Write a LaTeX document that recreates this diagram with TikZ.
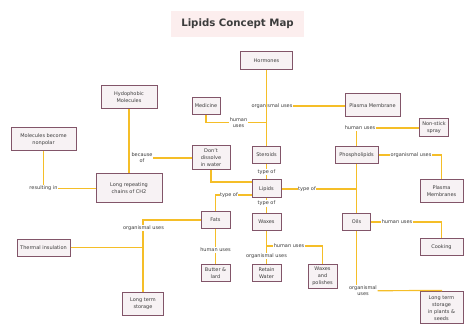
\documentclass[tikz,border=0pt]{standalone}
\usepackage{fontspec}
\setmainfont{DejaVu Sans}
\usepackage{tikz}
\usepackage{xcolor}
\definecolor{linkgold}{RGB}{245,190,40}
\definecolor{boxmauve}{RGB}{130,85,105}
\definecolor{boxfill}{RGB}{247,242,244}
\definecolor{titlepink}{RGB}{252,238,238}
\definecolor{textgrey}{RGB}{60,60,60}

\begin{document}
\begin{tikzpicture}[x=1pt, y=-1pt,
    concept/.style={draw=boxmauve, fill=boxfill, line width=1pt, align=center,
      inner sep=1pt, text=textgrey, font=\fontsize{5}{7}\selectfont},
    linkword/.style={fill=white, inner sep=0.5pt, align=center, text=textgrey,
      font=\fontsize{5}{6}\selectfont},
    link/.style={draw=linkgold, line width=1.2pt}]
    \useasboundingbox (0,0) rectangle (474,336);

    % Title
    \node[fill=titlepink, minimum width=133, minimum height=26, text=textgrey,
      font=\fontsize{10.2}{12}\selectfont\bfseries] (title) at (237.5,24) {Lipids Concept Map};

    % Centre column
    \node[concept, minimum width=52, minimum height=18] (hormones) at (266.5,61) {Hormones};
    \node[concept, minimum width=28, minimum height=17] (steroids) at (266.5,155) {Steroids};
    \node[concept, minimum width=29, minimum height=18] (lipids) at (266.5,189) {Lipids};
    \node[concept, minimum width=29, minimum height=17] (waxes) at (266.5,222) {Waxes};
    \node[concept, minimum width=29, minimum height=17] (water) at (266.5,273) {Retain\\Water};
    \node[concept, minimum width=29, minimum height=24] (polishes) at (322.5,276.3) {Waxes\\and\\polishes};
    \node[concept, minimum width=28, minimum height=17] (medicine) at (206,106) {Medicine};

    % Left side
    \node[concept, minimum width=56, minimum height=23] (hydro) at (129,97) {Hydophobic\\Molecules};
    \node[concept, minimum width=65, minimum height=23] (nonpolar) at (43.5,139.5) {Molecules become\\nonpolar};
    \node[concept, minimum width=38, minimum height=24] (dissolve) at (211,158) {Don't\\dissolve\\in water};
    \node[concept, minimum width=66, minimum height=29] (chains) at (129,188.5) {Long repeating\\chains of CH2};
    \node[concept, minimum width=29, minimum height=17] (fats) at (215.5,220) {Fats};
    \node[concept, minimum width=29, minimum height=17] (butter) at (215.5,273) {Butter \&\\lard};
    \node[concept, minimum width=53, minimum height=17] (thermal) at (43.5,247.7) {Thermal insulation};
    \node[concept, minimum width=41, minimum height=23] (storage) at (143,304) {Long term\\storage};

    % Right side
    \node[concept, minimum width=55, minimum height=23] (plasma) at (372.5,105.5) {Plasma Membrane};
    \node[concept, minimum width=29, minimum height=18] (nonstick) at (434,128) {Non-stick\\spray};
    \node[concept, minimum width=43, minimum height=17] (phospho) at (356.5,155) {Phospholipids};
    \node[concept, minimum width=28, minimum height=17] (oils) at (356.5,222) {Oils};
    \node[concept, minimum width=43, minimum height=23] (membranes) at (441.5,191.5) {Plasma\\Membranes};
    \node[concept, minimum width=43, minimum height=17] (cooking) at (441.5,247.5) {Cooking};
    \node[concept, minimum width=43, minimum height=32] (seeds) at (441.5,308) {Long term\\storage\\in plants \&\\seeds};

    % Link words
    \node[linkword] (orgHormones) at (272,106) {organismal uses};
    \node[linkword] (humMedicine) at (238.5,122.5) {human\\uses};
    \node[linkword] (becauseOf) at (142,158) {because\\of};
    \node[linkword] (resulting) at (43.5,188.5) {resulting in};
    \node[linkword] (typeUp) at (266.5,172) {type of};
    \node[linkword] (typeLeft) at (229,195) {type of};
    \node[linkword] (typeDown) at (266.5,203.5) {type of};
    \node[linkword] (typeRight) at (307,189) {type of};
    \node[linkword] (humSpray) at (360,128) {human uses};
    \node[linkword] (orgMembranes) at (411,155) {organismal uses};
    \node[linkword] (orgFats) at (143.5,228) {organismal uses};
    \node[linkword] (humButter) at (215.5,250) {human uses};
    \node[linkword] (humPolish) at (289,246) {human uses};
    \node[linkword] (orgWater) at (266.5,256) {organismal uses};
    \node[linkword] (humCooking) at (397,222) {human uses};
    \node[linkword] (orgSeeds) at (363,290.7) {organismal\\uses};

    % Connectors, stopping at the link words
    \path[link] (hormones) -- (orgHormones -| hormones);
    \path[link] (orgHormones -| hormones) -- (steroids);
    \path[link] (orgHormones.east) -- (orgHormones.east -| plasma.west);
    \path[link] (medicine.south) |- (humMedicine.west);
    \path[link] (humMedicine.east) -- (humMedicine.east -| steroids);
    \path[link] (hydro) -- (becauseOf.west -| hydro);
    \path[link] (becauseOf.west -| hydro) -- (chains);
    \path[link] (dissolve.west) -- (becauseOf.east);
    \path[link] (nonpolar.south) -- (resulting.north);
    \path[link] (resulting.east) -- (resulting.east -| chains.west);
    \path[link] (dissolve.south) |- ([yshift=7pt]lipids.west);
    \path[link] ([yshift=-6pt]lipids.west) -- (typeLeft.east);
    \path[link] (typeLeft.west) -| (fats.north);
    \path[link] (steroids) -- (typeUp) -- (lipids);
    \path[link] (lipids) -- (typeDown) -- (waxes);
    \path[link] (lipids.east) -- (typeRight.west);
    \path[link] (typeRight.east) -- (typeRight.east -| phospho);
    \path[link] (phospho) -- (oils);
    \path[link] (phospho.north) -- (humSpray.south -| phospho);
    \path[link] (humSpray.east) -- (nonstick.west);
    \path[link] (phospho.east) -- (orgMembranes.west);
    \path[link] (orgMembranes.east) -| (membranes.north);
    \path[link] (fats.west) -| (orgFats.north -| storage);
    \path[link] (orgFats.south -| storage) -- (storage.north);
    \path[link] (thermal.east) -- (thermal.east -| storage);
    \path[link] (fats) -- (humButter) -- (butter);
    \path[link] (waxes) -- (orgWater) -- (water);
    \path[link] (humPolish.west -| waxes) -- (humPolish.west);
    \path[link] (humPolish.east) -| (polishes.north);
    \path[link] (oils.east) -- (humCooking.west);
    \path[link] (humCooking.east) -| (cooking.north);
    \path[link] (oils.south) -- (orgSeeds.north -| oils);
    \path[link] (orgSeeds.east) -- ([yshift=1pt]seeds.north) -- (seeds.north);
  \end{tikzpicture}
\end{document}
